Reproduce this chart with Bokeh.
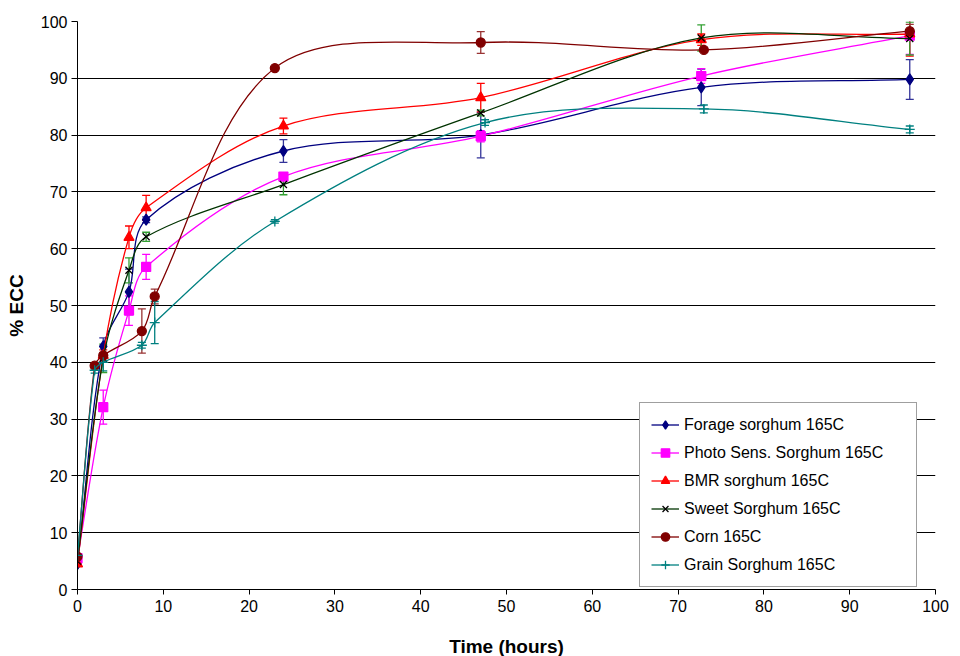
import numpy as np
from bokeh.plotting import figure
from bokeh.models import (ColumnDataSource, Whisker, TeeHead, Legend, LegendItem,
                          FixedTicker, Range1d)
from bokeh.embed import file_html
from bokeh.resources import INLINE

# ---------------- data ----------------
x_ticks = [0, 10, 20, 30, 40, 50, 60, 70, 80, 90, 100]
y_ticks = [0, 10, 20, 30, 40, 50, 60, 70, 80, 90, 100]

labels = ["Forage sorghum 165C", "Photo Sens. Sorghum 165C", "BMR sorghum 165C",
          "Sweet Sorghum 165C", "Corn 165C", "Grain Sorghum 165C"]

forage_t = [0, 3, 6, 8, 24, 47, 72.7, 97]
forage_y = [4.5, 42.8, 52.4, 65.1, 77.2, 80.0, 88.4, 89.8]
forage_e = [0.3, 1.5, 4.0, 0.5, 2.0, 4.0, 3.2, 3.5]

photo_t = [0, 3, 6, 8, 24, 47, 72.7, 97]
photo_y = [5.5, 32.1, 49.1, 56.8, 72.7, 79.8, 90.4, 97.5]
photo_e = [0.3, 3.0, 2.6, 2.2, 0.5, 1.0, 1.3, 3.3]

bmr_t = [0, 3, 6, 8, 24, 47, 72.7, 97]
bmr_y = [4.5, 41.2, 62.0, 67.2, 81.6, 86.6, 96.8, 97.8]
bmr_e = [0.3, 1.0, 2.0, 2.2, 1.4, 2.5, 1.0, 3.9]

sweet_t = [0, 3, 6, 8, 24, 47, 72.7, 97]
sweet_y = [5.0, 40.7, 56.2, 62.1, 71.3, 83.9, 97.1, 97.0]
sweet_e = [0.3, 2.5, 2.2, 0.8, 1.8, 0.5, 2.3, 2.9]

corn_t = [0, 2, 3, 7.5, 9, 23, 47, 73, 97]
corn_y = [5.8, 39.4, 41.2, 45.5, 51.6, 91.8, 96.3, 95.0, 98.3]
corn_e = [0.3, 0.5, 0.5, 3.9, 1.3, 0.3, 1.9, 0.3, 1.2]

grain_t = [0, 2, 3, 7.5, 9, 23, 47.5, 73, 97]
grain_y = [6.0, 38.6, 40.0, 43.0, 47.0, 64.8, 82.2, 84.6, 81.0]
grain_e = [0.3, 0.5, 1.5, 0.5, 3.7, 0.3, 0.5, 0.7, 0.6]

# ---------------- styles ----------------
FW, FH = 858, 568
SX, SY = FW / 100.0, FH / 100.0

styles = [
    dict(line="#000080", marker="diamond", mfill="#000080", mline="#000080", size=11, err="#333399"),
    dict(line="#FF00FF", marker="square", mfill="#FF00FF", mline="#FF00FF", size=9, err="#FF00FF"),
    dict(line="#FF0000", marker="triangle", mfill="#FF0000", mline="#FF0000", size=10, err="#FF0000"),
    dict(line="#003300", marker="x", mfill=None, mline="#000000", size=10, err="#33A033"),
    dict(line="#800000", marker="circle", mfill="#800000", mline="#800000", size=9, err="#993333"),
    dict(line="#008080", marker="cross", mfill=None, mline="#008080", size=10, err="#008080"),
]

series = [(forage_t, forage_y, forage_e), (photo_t, photo_y, photo_e),
          (bmr_t, bmr_y, bmr_e), (sweet_t, sweet_y, sweet_e),
          (corn_t, corn_y, corn_e), (grain_t, grain_y, grain_e)]


def smooth(t, y):
    """Excel-like smoothed line: cubic Bezier segments computed in screen space."""
    P = np.column_stack([np.asarray(t, float) * SX, np.asarray(y, float) * SY])
    n = len(P)
    out = {k: [] for k in ("x0", "y0", "x1", "y1", "cx0", "cy0", "cx1", "cy1")}
    for i in range(n - 1):
        pm = P[i - 1] if i > 0 else P[i]
        p0, p1 = P[i], P[i + 1]
        p2 = P[i + 2] if i + 2 < n else P[i + 1]
        dp = np.linalg.norm(p0 - pm)
        d = np.linalg.norm(p1 - p0)
        dn = np.linalg.norm(p2 - p1)
        w0 = d / (dp + d) if dp + d > 0 else 0.0
        w1 = d / (d + dn) if d + dn > 0 else 0.0
        c0 = p0 + (p1 - pm) * w0 / 3.0
        c1 = p1 - (p2 - p0) * w1 / 3.0
        out["x0"].append(p0[0] / SX); out["y0"].append(p0[1] / SY)
        out["x1"].append(p1[0] / SX); out["y1"].append(p1[1] / SY)
        out["cx0"].append(c0[0] / SX); out["cy0"].append(c0[1] / SY)
        out["cx1"].append(c1[0] / SX); out["cy1"].append(c1[1] / SY)
    return out


p = figure(frame_width=FW, frame_height=FH, output_backend="svg", toolbar_location=None,
           x_range=Range1d(0, 100), y_range=Range1d(0, 100),
           min_border_left=77, min_border_right=16, min_border_top=21, min_border_bottom=63)
p.outline_line_color = None
p.background_fill_color = "white"
p.border_fill_color = "white"

p.xgrid.grid_line_color = None
p.ygrid.grid_line_color = "#000000"
p.ygrid.grid_line_width = 1
p.ygrid.ticker = FixedTicker(ticks=y_ticks)

p.xaxis.ticker = FixedTicker(ticks=x_ticks)
p.yaxis.ticker = FixedTicker(ticks=y_ticks)
for ax in (p.xaxis, p.yaxis):
    ax.axis_line_color = "black"
    ax.major_tick_line_color = "black"
    ax.minor_tick_line_color = None
    ax.major_tick_in = 0
    ax.major_label_text_font = "Liberation Sans"
    ax.major_label_text_font_size = "16px"
    ax.major_label_text_color = "black"
    ax.axis_label_text_font = "Liberation Sans"
    ax.axis_label_text_font_size = "19px"
    ax.axis_label_text_font_style = "bold"
    ax.axis_label_text_color = "black"
p.xaxis.major_tick_out = 5
p.yaxis.major_tick_out = 6
p.xaxis.major_label_standoff = 5
p.yaxis.major_label_standoff = 4
p.xaxis.axis_label = "Time (hours)"
p.yaxis.axis_label = "% ECC"
p.xaxis.axis_label_standoff = 21
p.yaxis.axis_label_standoff = 11

items = []
for (t, y, e), st, lab in zip(series, styles, labels):
    bz = smooth(t, y)
    lr = p.bezier(x0="x0", y0="y0", x1="x1", y1="y1", cx0="cx0", cy0="cy0",
                  cx1="cx1", cy1="cy1", source=ColumnDataSource(bz),
                  line_color=st["line"], line_width=1.3)
    ya = np.asarray(y, float); ea = np.asarray(e, float)
    esrc = ColumnDataSource(dict(x=list(t), upper=list(ya + ea), lower=list(ya - ea)))
    w = Whisker(base="x", upper="upper", lower="lower", source=esrc, dimension="height",
                line_color=st["err"], line_width=1.3,
                upper_head=TeeHead(size=8, line_color=st["err"], line_width=1.3),
                lower_head=TeeHead(size=8, line_color=st["err"], line_width=1.3))
    p.add_layout(w)
    sr = p.scatter(x=list(t), y=list(y), marker=st["marker"], size=st["size"],
                   fill_color=st["mfill"], line_color=st["mline"], line_width=1.3)
    items.append(LegendItem(label=lab, renderers=[lr, sr]))

legend = Legend(items=items, location=(562, 2), orientation="vertical",
                border_line_color="#404040", border_line_width=1,
                background_fill_color="white", background_fill_alpha=1.0,
                label_text_font="Liberation Sans", label_text_font_size="16px",
                label_text_color="black",
                glyph_width=28, glyph_height=21, label_height=21, label_width=221,
                spacing=7, padding=11, margin=0, label_standoff=5)
p.add_layout(legend)

open("out.html", "w").write(file_html(p, INLINE))
